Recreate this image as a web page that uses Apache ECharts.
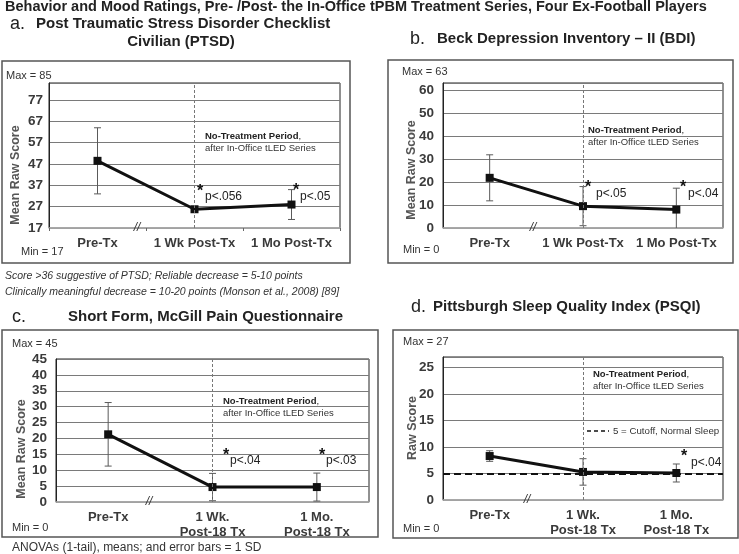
<!DOCTYPE html>
<html><head><meta charset="utf-8">
<script src="https://cdn.jsdelivr.net/npm/echarts@6/dist/echarts.min.js"></script>
<style>html,body{margin:0;padding:0;background:#fff}#c{width:739px;height:554px}</style>
</head><body><div id="c"></div>
<script>
// ---------- data ----------
const catsAB = ['Pre-Tx', '1 Wk Post-Tx', '1 Mo Post-Tx'];
const catsCD = ['Pre-Tx', '1 Wk.\nPost-18 Tx', '1 Mo.\nPost-18 Tx'];
const ptsdMean = [48.5, 25.8, 28.0];
const ptsdSD   = [15.5, 0, 7.0];
const bdiMean  = [21.8, 9.5, 8.0];
const bdiSD    = [10.0, 8.5, 9.3];
const mpqMean  = [21.3, 4.7, 4.7];
const mpqSD    = [10.0, 4.3, 4.4];
const psqiMean = [8.3, 5.3, 5.1];
const psqiSD   = [1.0, 2.5, 1.7];
// y axis ranges: [min, max, tick step]
const ptsdRange = [17, 85, 10];
const bdiRange  = [0, 63, 10];
const mpqRange  = [0, 45, 5];
const psqiRange = [0, 27, 5];
const psqiCutoff = 5;

// ---------- layout ----------
const FONT = 'Liberation Sans, Arial, sans-serif';
const grids = [
  {left: 49, top: 83, width: 291, height: 145},
  {left: 443, top: 83, width: 280, height: 145},
  {left: 56, top: 359, width: 313, height: 143},
  {left: 443, top: 357, width: 280, height: 143}
];
const panels = [
  {cats: catsAB, mean: ptsdMean, sd: ptsdSD, range: ptsdRange, ticks: true},
  {cats: catsAB, mean: bdiMean, sd: bdiSD, range: bdiRange, ticks: false},
  {cats: catsCD, mean: mpqMean, sd: mpqSD, range: mpqRange, ticks: false},
  {cats: catsCD, mean: psqiMean, sd: psqiSD, range: psqiRange, ticks: false}
];

const xAxes = [], yAxes = [], series = [];
panels.forEach((p, i) => {
  xAxes.push({
    type: 'category', gridIndex: i, data: p.cats, boundaryGap: true,
    axisLine: {show: true, lineStyle: {color: '#b0b0b0', width: 1.5}},
    axisTick: {show: p.ticks, length: 3, lineStyle: {color: '#666'}},
    axisLabel: {interval: 0, margin: 8, color: '#3a3a3a', fontWeight: 'bold',
      fontSize: 13, fontFamily: FONT, lineHeight: 15},
    splitLine: {show: false}
  });
  const mn = p.range[0], mx = p.range[1], st = p.range[2];
  const onStep = ((mx - mn) % st) === 0;
  yAxes.push({
    type: 'value', gridIndex: i, min: mn, max: mx, interval: st,
    axisLine: {show: true, lineStyle: {color: '#222', width: 1}},
    axisTick: {show: false},
    axisLabel: {color: '#3a3a3a', fontWeight: 'bold', fontSize: 13.5, fontFamily: FONT,
      margin: i === 0 ? 6 : 9, formatter: v => ((v === mx && !onStep) ? '' : String(v))},
    splitLine: {show: true, lineStyle: {color: '#7a7a7a', width: 1}}
  });
  series.push({
    type: 'custom', xAxisIndex: i, yAxisIndex: i, z: 2, clip: true,
    data: p.mean.map((m, k) => [k, m - p.sd[k], m + p.sd[k]]).filter(d => d[2] > d[1]),
    renderItem: (params, api) => {
      const x = api.value(0);
      const lo = api.coord([x, api.value(1)]);
      const hi = api.coord([x, api.value(2)]);
      const w = 3.5;
      const s = {stroke: '#5a5a5a', lineWidth: 1};
      return {type: 'group', children: [
        {type: 'line', shape: {x1: lo[0], y1: lo[1], x2: hi[0], y2: hi[1]}, style: s},
        {type: 'line', shape: {x1: hi[0] - w, y1: hi[1], x2: hi[0] + w, y2: hi[1]}, style: s},
        {type: 'line', shape: {x1: lo[0] - w, y1: lo[1], x2: lo[0] + w, y2: lo[1]}, style: s}
      ]};
    }
  });
  const ml = [{xAxis: p.cats[1], lineStyle: {type: [3, 2], color: '#777', width: 1}}];
  if (i === 3) ml.push({yAxis: psqiCutoff, lineStyle: {type: [7, 4], color: '#111', width: 2}});
  series.push({
    type: 'line', xAxisIndex: i, yAxisIndex: i, z: 3, data: p.mean,
    symbol: 'rect', symbolSize: 8,
    lineStyle: {color: '#111', width: 3}, itemStyle: {color: '#111'},
    markLine: {silent: true, symbol: 'none', label: {show: false}, data: ml},
    animation: false
  });
});

// ---------- text / decorations ----------
const G = [];
function T(x, y, text, o = {}) {
  G.push({type: 'text', x: x, y: y, rotation: o.rot || 0, z: 10, silent: true,
    style: {text: text, x: 0, y: 0,
      font: (o.style || '') + ' ' + (o.weight || 'normal') + ' ' + (o.size || 11) + 'px ' + (o.family || FONT),
      fill: o.color || '#333', textAlign: o.align || 'left', textVerticalAlign: 'middle',
      align: o.align || 'left', verticalAlign: 'middle', rich: o.rich}});
}
function BOX(x, y, w, h) {
  G.push({type: 'rect', z: 1, silent: true, shape: {x: x, y: y, width: w, height: h},
    style: {fill: 'none', stroke: '#555', lineWidth: 1.5}});
}
BOX(2, 61, 348, 202);
BOX(388, 60, 345, 203);
BOX(2, 330, 376, 207);
BOX(393, 330, 345, 208);

T(5, 7, 'Behavior and Mood Ratings, Pre- /Post- the In-Office tPBM Treatment Series, Four Ex-Football Players', {weight: 'bold', size: 14.5, color: '#222'});
// panel titles
T(10, 24, 'a.', {size: 18, color: '#222'});
T(36, 24, 'Post Traumatic Stress Disorder Checklist', {weight: 'bold', size: 15, color: '#222'});
T(181, 42, 'Civilian (PTSD)', {weight: 'bold', size: 15, color: '#222', align: 'center'});
T(410, 39, 'b.', {size: 18, color: '#222'});
T(437, 39, 'Beck Depression Inventory \u2013 II (BDI)', {weight: 'bold', size: 15, color: '#222'});
T(12, 317, 'c.', {size: 18, color: '#222'});
T(68, 317, 'Short Form, McGill Pain Questionnaire', {weight: 'bold', size: 15, color: '#222'});
T(411, 307, 'd.', {size: 18, color: '#222'});
T(433, 307, 'Pittsburgh Sleep Quality Index (PSQI)', {weight: 'bold', size: 15, color: '#222'});

// max / min
T(6, 76, 'Max = 85'); T(21, 252, 'Min = 17');
T(402, 72, 'Max = 63'); T(403, 250, 'Min = 0');
T(12, 344, 'Max = 45'); T(12, 528, 'Min = 0');
T(403, 342, 'Max = 27'); T(403, 529, 'Min = 0');

// y names
T(16, 175, 'Mean Raw Score', {weight: 'bold', size: 12.5, color: '#555', align: 'center', rot: Math.PI / 2});
T(412, 170, 'Mean Raw Score', {weight: 'bold', size: 12.5, color: '#555', align: 'center', rot: Math.PI / 2});
T(22, 449, 'Mean Raw Score', {weight: 'bold', size: 12.5, color: '#555', align: 'center', rot: Math.PI / 2});
T(413, 428, 'Raw Score', {weight: 'bold', size: 12.5, color: '#555', align: 'center', rot: Math.PI / 2});

// no treatment notes
const rich = {b: {fontWeight: 'bold', fontSize: 9.5, fontFamily: FONT, fill: '#222', color: '#222'}};
[[205, 136], [588, 130], [223, 401], [593, 374]].forEach(([x, y]) => {
  T(x, y, '{b|No-Treatment Period},', {size: 9.5, color: '#222', rich: rich});
  T(x, y + 12, 'after In-Office tLED Series', {size: 9.5, color: '#333'});
});

// significance
function SIG(ax, ay, tx, ty, t) {
  T(ax, ay, '*', {weight: 'bold', size: 16, color: '#111', align: 'center'});
  T(tx, ty, t, {size: 12, color: '#222'});
}
SIG(200, 192, 205, 197, 'p<.056');
SIG(296, 191, 300, 197, 'p<.05');
SIG(588, 188, 596, 194, 'p<.05');
SIG(683, 188, 688, 194, 'p<.04');
SIG(226, 456, 230, 461, 'p<.04');
SIG(322, 456, 326, 461, 'p<.03');
SIG(684, 457, 691, 463, 'p<.04');

// axis breaks
[[137, 228], [533, 228], [149, 502], [527, 500]].forEach(([x, y]) => T(x, y, '//', {size: 12, color: '#333', align: 'center', style: 'italic'}));

// cutoff legend
G.push({type: 'line', z: 10, silent: true, shape: {x1: 587, y1: 431, x2: 609, y2: 431},
  style: {stroke: '#111', lineWidth: 1.5, lineDash: [4, 3]}});
T(613, 431, '5 = Cutoff, Normal Sleep', {size: 9.7, color: '#333'});

// footnotes
T(5, 276, 'Score >36 suggestive of PTSD; Reliable decrease = 5-10 points', {style: 'italic', size: 10.5, color: '#333'});
T(5, 292, 'Clinically meaningful decrease = 10-20 points (Monson et al., 2008) [89]', {style: 'italic', size: 10.5, color: '#333'});
T(12, 548, 'ANOVAs (1-tail), means; and error bars = 1 SD', {size: 12, color: '#333'});

const chart = echarts.init(document.getElementById('c'), null, {renderer: 'canvas'});
chart.setOption({
  animation: false,
  backgroundColor: '#fff',
  grid: grids.map(g => Object.assign({show: true, borderColor: '#222', borderWidth: 1, backgroundColor: 'transparent'}, g)),
  xAxis: xAxes, yAxis: yAxes, series: series, graphic: {elements: G}
});
</script></body></html>
